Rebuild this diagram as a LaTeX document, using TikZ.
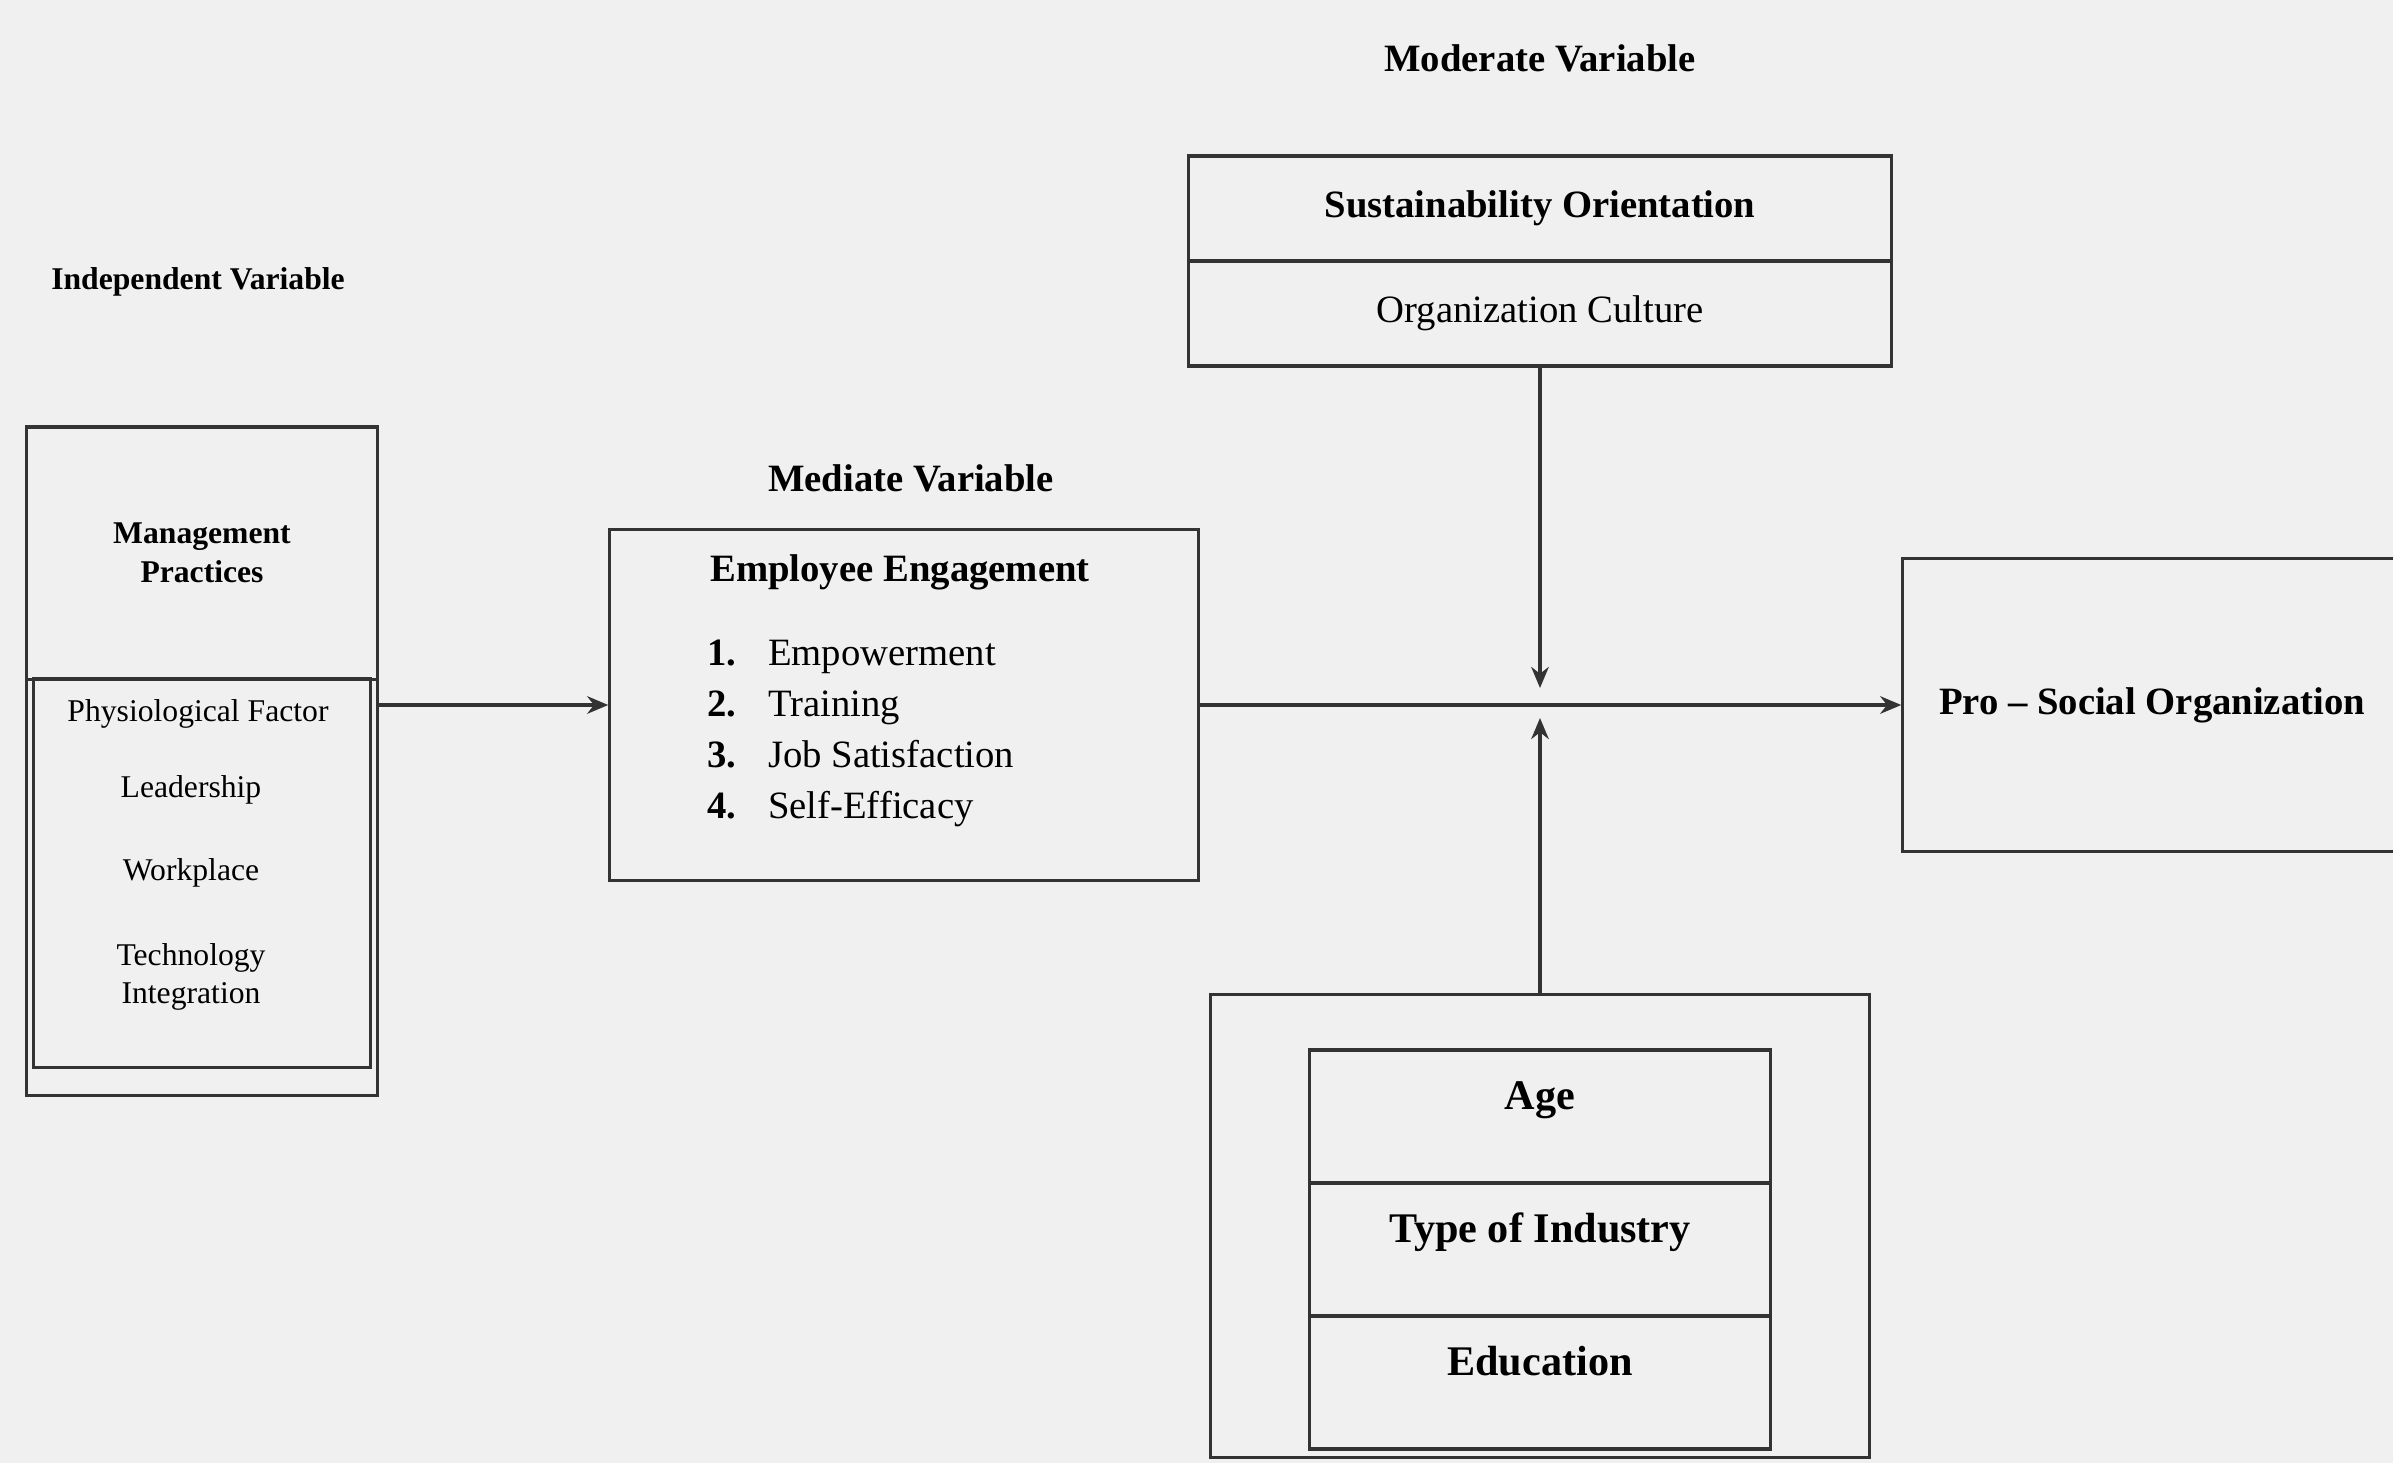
\documentclass[tikz,border=0pt]{standalone}
\usepackage{fontspec}
\setmainfont{Liberation Serif}
\usetikzlibrary{arrows.meta}

\begin{document}
\begin{tikzpicture}[x = 0.01cm, y = -0.01cm, line width = 0.9pt,
    every node/.style = {font = \fontsize{11}{13.5}\selectfont, inner sep = 1pt},
    box/.style = {draw = black!80, rectangle},
    small/.style = {font = \fontsize{9}{11}\selectfont},
    smallhead/.style = {font = \fontsize{9}{11}\selectfont\bfseries},
    heading/.style = {font = \fontsize{11}{13.5}\selectfont\bfseries},
    cell/.style = {box, minimum width = 4.61cm, minimum height = 1.33cm,
        font = \fontsize{12}{14}\selectfont\bfseries, text height = 0.3cm, text depth = 0.45cm},
    link/.style = {draw = black!80, -{Stealth[length = 6pt, width = 5pt]}}]
    \fill[black!6] (0,0) rectangle (2393,1463);
    \useasboundingbox (0,0) rectangle (2393,1463);

    \node[smallhead] (indeplabel) at (198, 282) {Independent Variable};
    \node[box, minimum width = 3.5cm, minimum height = 6.69cm] (indep) at (202, 761) {};
    \node[box, smallhead, align = center, minimum width = 3.5cm, minimum height = 2.52cm] (mgmt) at (202, 553) {Management\\Practices};
    \node[box, minimum width = 3.37cm, minimum height = 3.89cm] (factors) at (202, 873) {};
    \node[small] (phys) at (198, 714) {Physiological Factor};
    \node[small] (lead) at (191, 790) {Leadership};
    \node[small] (work) at (191, 873) {Workplace};
    \node[small, align = center] (tech) at (191, 977) {Technology\\Integration};

    \node[heading] (medlabel) at (911, 478) {Mediate Variable};
    \node[box, minimum width = 5.88cm, minimum height = 3.5cm] (med) at (904, 705) {};
    \node[heading] (engage) at (900, 572) {Employee Engagement};
    \node[align = left, anchor = west, font = \fontsize{11}{14.5}\selectfont] (items) at (702, 733)
        {\makebox[0.61cm][l]{\bfseries 1.}Empowerment\\
         \makebox[0.61cm][l]{\bfseries 2.}Training\\
         \makebox[0.61cm][l]{\bfseries 3.}Job Satisfaction\\
         \makebox[0.61cm][l]{\bfseries 4.}Self-Efficacy};

    \node[heading] (modlabel) at (1540, 58) {Moderate Variable};
    \node[box, heading, minimum width = 7.02cm, minimum height = 1.05cm] (sust) at (1540, 208.5) {Sustainability Orientation};
    \node[box, minimum width = 7.02cm, minimum height = 1.05cm] (culture) at (1540, 313.5) {Organization Culture};

    \node[box, heading, minimum width = 4.98cm, minimum height = 2.93cm] (prosocial) at (2152, 705) {Pro -- Social Organization};

    \node[box, minimum width = 6.58cm, minimum height = 4.62cm] (ctrl) at (1540, 1226) {};
    \node[cell] (age) at (1540, 1116.5) {Age};
    \node[cell] (industry) at (1540, 1249.5) {Type of Industry};
    \node[cell] (edu) at (1540, 1382.5) {Education};

    \coordinate (jtop) at (1540, 688);
    \coordinate (jbot) at (1540, 718);
    \draw[link] (indep.east |- med.west) -- (med.west);
    \draw[link] (med.east) -- (prosocial.west);
    \draw[link] (culture.south) -- (jtop);
    \draw[link] (ctrl.north) -- (jbot);
\end{tikzpicture}
\end{document}
